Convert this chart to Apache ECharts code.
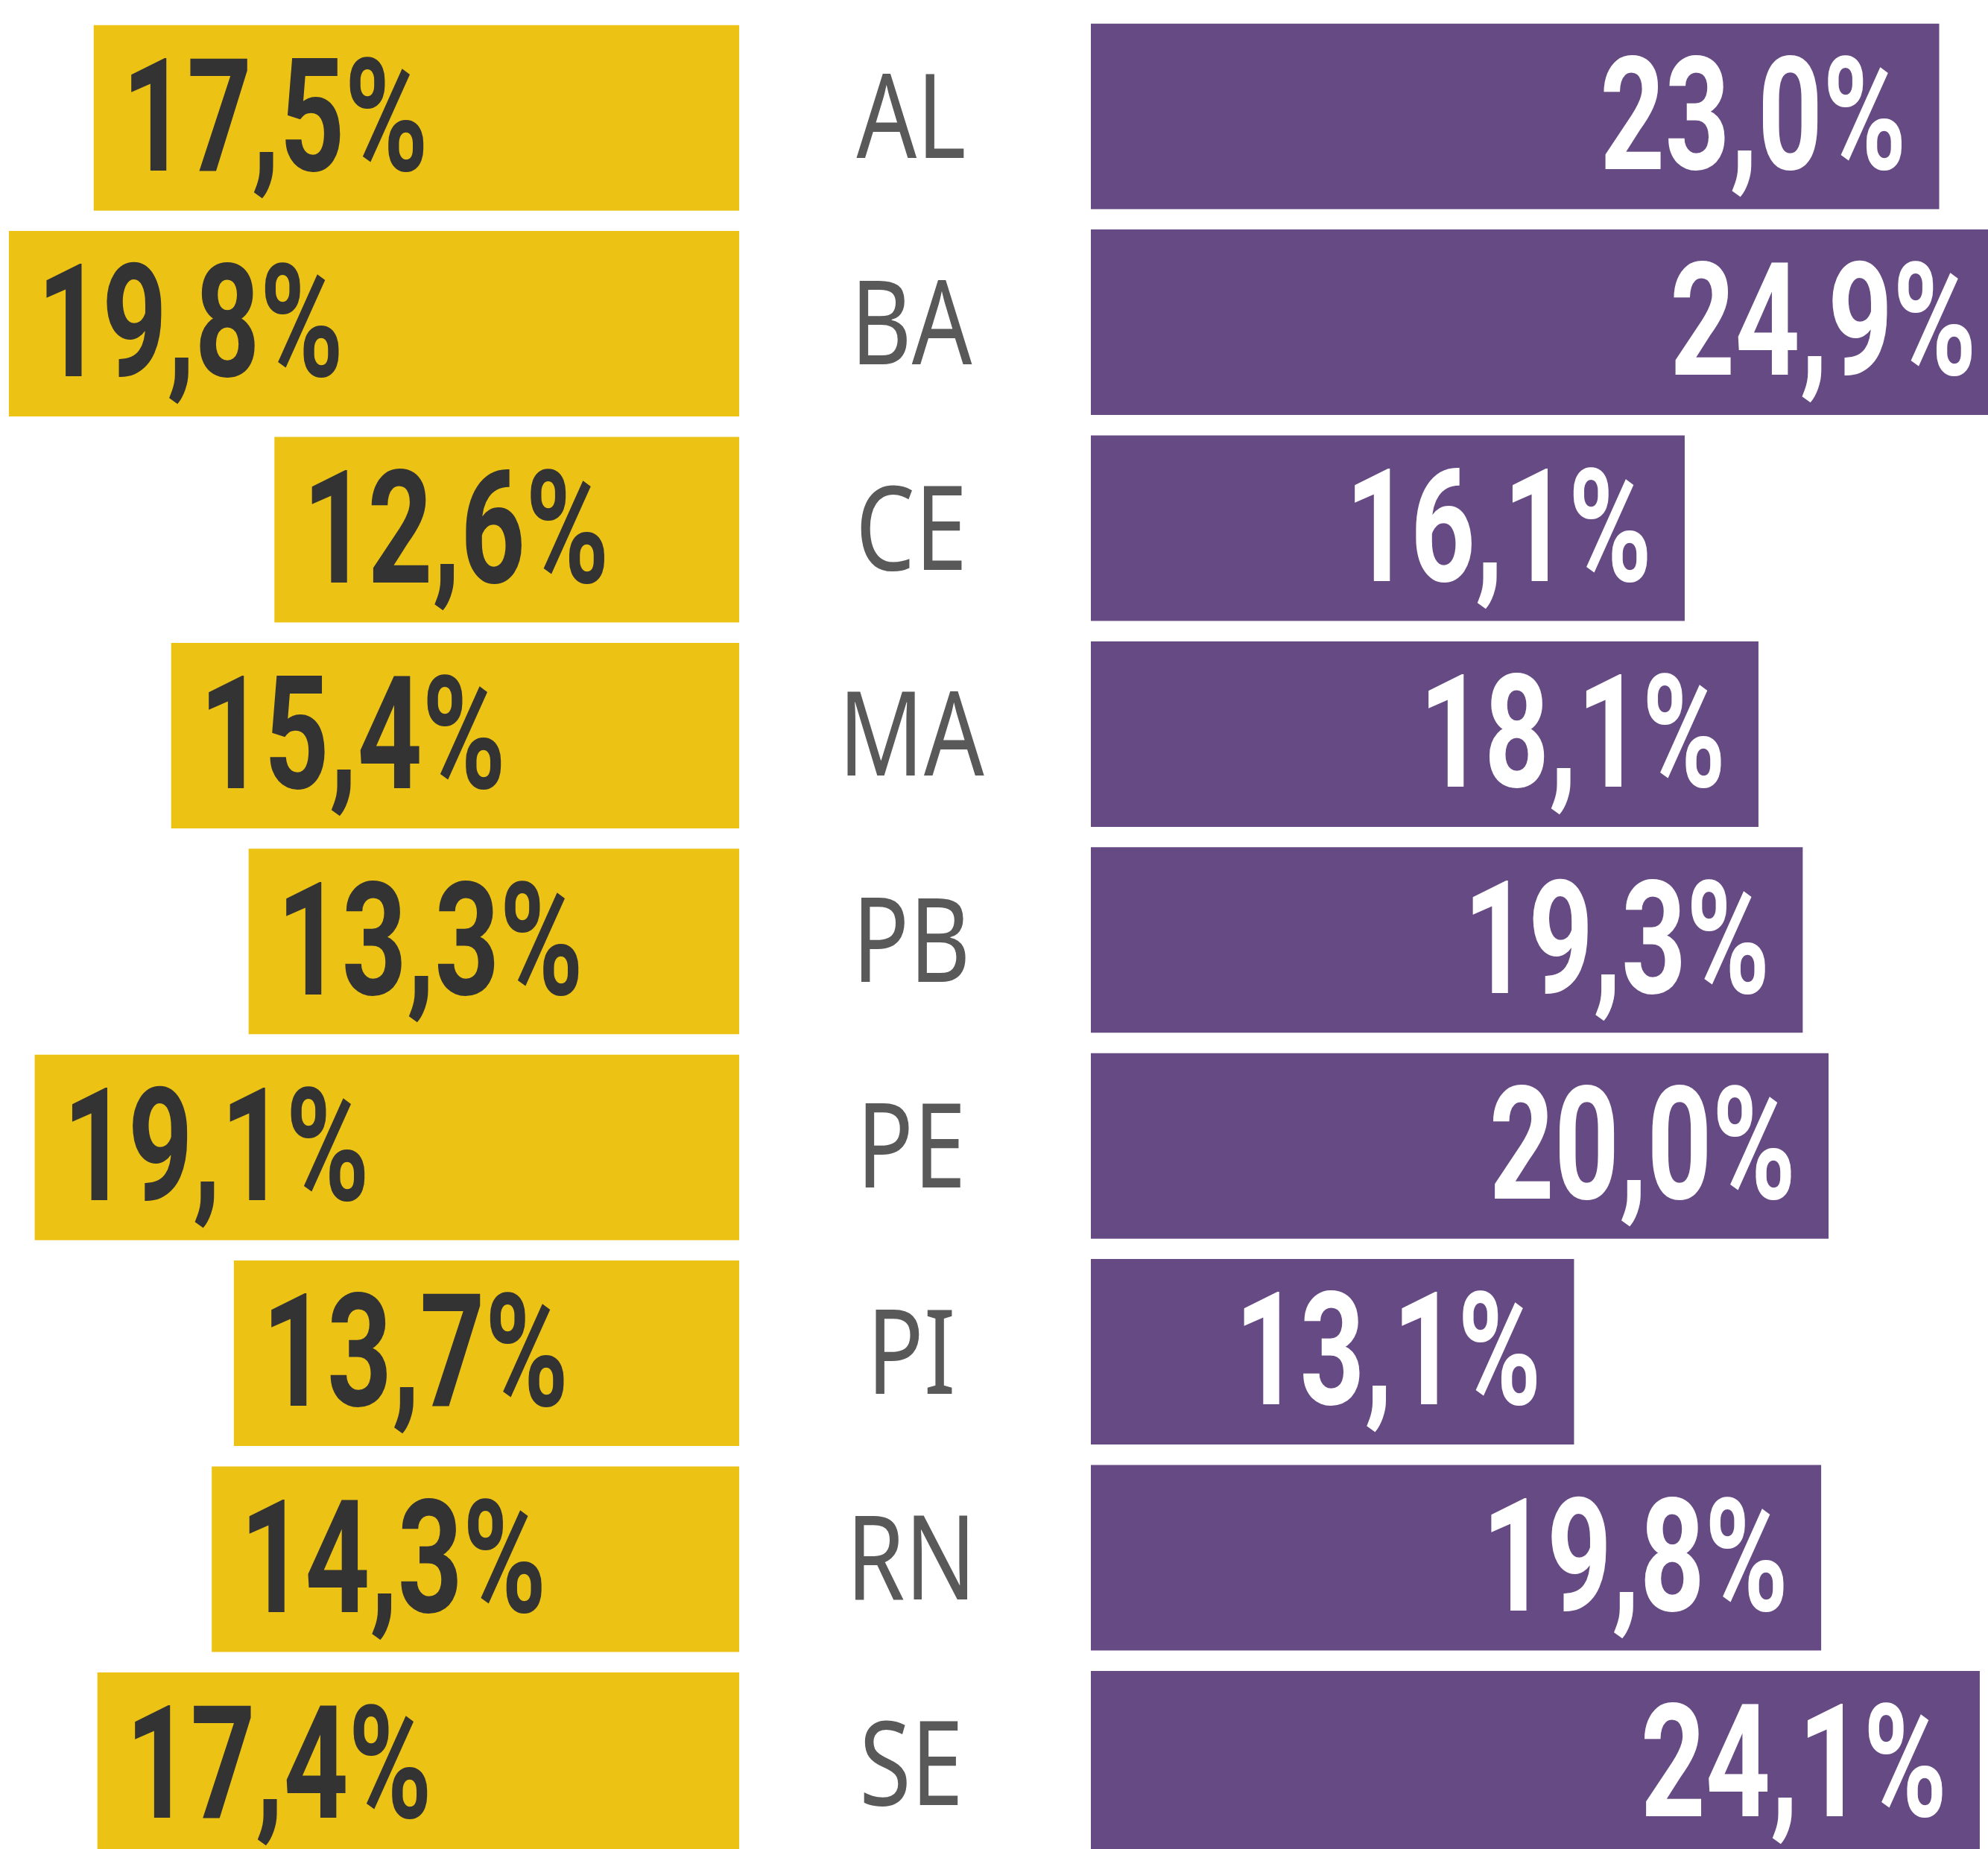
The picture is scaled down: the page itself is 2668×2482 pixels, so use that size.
<!DOCTYPE html>
<html>
<head>
<meta charset="utf-8">
<script src="https://cdn.jsdelivr.net/npm/echarts@6/dist/echarts.min.js"></script>
<style>
    html, body { margin: 0; padding: 0; background: #fff; }
    #chart { width: 2668px; height: 2482px; }
</style>
</head>
<body>
<div id="chart"></div>
<script>
// dados
const states = ['AL', 'BA', 'CE', 'MA', 'PB', 'PE', 'PI', 'RN', 'SE']
const leftValues = [17.5, 19.8, 12.6, 15.4, 13.3, 19.1, 13.7, 14.3, 17.4]
const rightValues = [23.0, 24.9, 16.1, 18.1, 19.3, 20.0, 13.1, 19.8, 24.1]

const yellow = '#ECC215'
const purple = '#664A84'

const rowHeight = 276.4
const barHeight = 249
const valueFont = { fontFamily: 'Roboto', fontWeight: 'bold', fontSize: 211 }
const valueScale = 0.72
const valueDy = 18

function fmt(v) {
    return v.toFixed(1).replace('.', ',') + '%'
}

const chart = echarts.init(document.getElementById('chart'))

// rótulos dos valores, esquerda
function renderLeftLabel(params, api) {
    const p = api.coord([api.value(0), api.value(1)])
    return {
        type: 'text',
        x: p[0] + 38,
        y: p[1] + valueDy,
        scaleX: valueScale,
        style: {
            text: fmt(api.value(0)),
            fill: '#333333',
            align: 'left',
            verticalAlign: 'middle',
            ...valueFont
        }
    }
}

// rótulos dos valores, direita + sigla do estado
function renderRightLabel(params, api) {
    const p = api.coord([api.value(0), api.value(1)])
    const base = api.coord([0, api.value(1)])
    return {
        type: 'group',
        children: [
            {
                type: 'text',
                x: p[0] - 44,
                y: p[1] + valueDy,
                scaleX: valueScale,
                style: {
                    text: fmt(api.value(0)),
                    fill: '#ffffff',
                    align: 'right',
                    verticalAlign: 'middle',
                    ...valueFont
                }
            },
            {
                type: 'text',
                x: base[0] - 241,
                y: base[1] + 11,
                scaleX: 0.8,
                style: {
                    text: states[params.dataIndex],
                    fill: '#595959',
                    align: 'center',
                    verticalAlign: 'middle',
                    fontFamily: 'Noto Sans',
                    fontSize: 158
                }
            }
        ]
    }
}

const option = {
    animation: false,
    grid: [
        { left: 2, top: 20, width: 990, height: rowHeight * 9, outerBoundsMode: 'none' },
        { left: 1464, top: 18, width: 25 * 49.5, height: rowHeight * 9, outerBoundsMode: 'none' }
    ],
    xAxis: [
        { gridIndex: 0, type: 'value', min: 0, max: 20, inverse: true, show: false },
        { gridIndex: 1, type: 'value', min: 0, max: 25, show: false }
    ],
    yAxis: [
        { gridIndex: 0, type: 'category', data: states, inverse: true, show: false },
        { gridIndex: 1, type: 'category', data: states, inverse: true, show: false }
    ],
    series: [
        {
            type: 'bar',
            xAxisIndex: 0,
            yAxisIndex: 0,
            data: leftValues,
            barWidth: barHeight,
            itemStyle: { color: yellow },
            silent: true
        },
        {
            type: 'bar',
            xAxisIndex: 1,
            yAxisIndex: 1,
            data: rightValues,
            barWidth: barHeight,
            itemStyle: { color: purple },
            silent: true
        },
        {
            type: 'custom',
            xAxisIndex: 0,
            yAxisIndex: 0,
            z: 10,
            data: leftValues.map((v, i) => [v, i]),
            renderItem: renderLeftLabel,
            silent: true
        },
        {
            type: 'custom',
            xAxisIndex: 1,
            yAxisIndex: 1,
            z: 10,
            data: rightValues.map((v, i) => [v, i]),
            renderItem: renderRightLabel,
            silent: true
        }
    ]
}

chart.setOption(option)
</script>
</body>
</html>
